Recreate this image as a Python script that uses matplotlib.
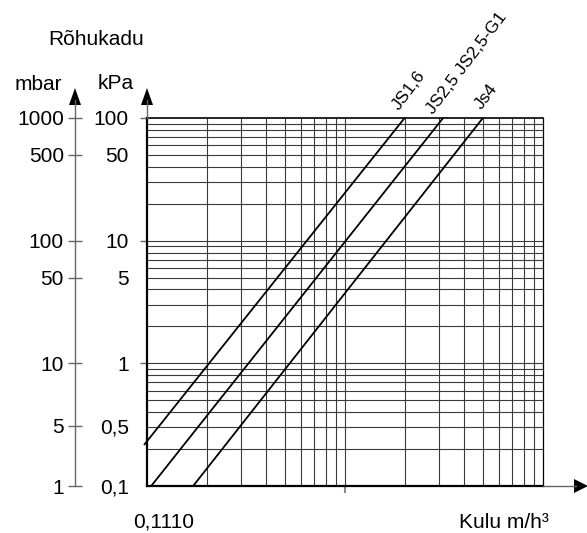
import numpy as np
import matplotlib
matplotlib.use('Agg')
import matplotlib.pyplot as plt
from matplotlib.ticker import NullLocator, FixedLocator
from matplotlib.patches import Polygon

plt.rcParams['font.family'] = ['Liberation Sans', 'DejaVu Sans']

# ---- data ----
flow_min, flow_max = 0.1, 10          # m3/h
kpa_min, kpa_max = 0.1, 100           # kPa

series_names = ['JS1,6', 'JS2,5 JS2,5-G1', 'Js4']
series_flow = [[0.0966, 2.0], [0.105, 3.13], [0.171, 4.97]]
series_kpa = [[0.216, 100], [0.1, 100], [0.1, 100]]

kpa_tick_labels = ['100', '50', '10', '5', '1', '0,5', '0,1']
kpa_tick_pos = [100, 50, 10, 5, 1, 0.31, 0.1]
mbar_tick_labels = ['1000', '500', '100', '50', '10', '5', '1']
kpa_tick_marks = [100, 10, 1]
x_tick_marks = [1]

title_text = 'Rõhukadu'
mbar_text = 'mbar'
kpa_text = 'kPa'
x_values_text = '0,1110'
x_unit_text = 'Kulu m/h³'

W, H = 587, 533
PX = 0.72  # points per pixel at dpi 100
FS = 15

fig = plt.figure(figsize=(W / 100, H / 100), dpi=100)
L, R, T, B = 147, 543, 118, 486
ax = fig.add_axes([L / W, (H - B) / H, (R - L) / W, (B - T) / H])
ax.set_xscale('log')
ax.set_yscale('log')
ax.set_xlim(flow_min, flow_max)
ax.set_ylim(kpa_min, kpa_max)

# grid
grid_col = '#3a3a3a'
for d in [0.1, 1, 10]:
    for k in range(1, 10):
        v = d * k
        if flow_min < v < flow_max:
            ax.axvline(v, color=grid_col, lw=0.8, zorder=1)
        if kpa_min < v < kpa_max:
            ax.axhline(v, color=grid_col, lw=0.8, zorder=1)

# curves
for name, fx, fy in zip(series_names, series_flow, series_kpa):
    ax.plot(fx, fy, color='black', lw=1.3, zorder=3, clip_on=False,
            solid_capstyle='butt')

offsets = [(4, 28), (24, 55), (3, 21)]
for name, fx, fy, off in zip(series_names, series_flow, series_kpa, offsets):
    ax.annotate(name, xy=(fx[-1], fy[-1]), xytext=off, textcoords='offset pixels',
                rotation=53, rotation_mode='anchor', ha='center', va='center',
                fontsize=12.5, annotation_clip=False)

# spines
for s, lw in [('left', 1.6), ('bottom', 1.6), ('top', 1.2), ('right', 0.9)]:
    ax.spines[s].set_linewidth(lw)
    ax.spines[s].set_color('black')

# y ticks (kPa)
ax.yaxis.set_major_locator(FixedLocator(kpa_tick_pos))
ax.set_yticklabels(kpa_tick_labels)
ax.yaxis.set_minor_locator(NullLocator())
ax.tick_params(axis='y', direction='out', length=7 * PX, width=1.0, color='#666666',
               labelsize=FS, pad=11 * PX)
for t, v in zip(ax.yaxis.get_major_ticks(), kpa_tick_pos):
    if v not in kpa_tick_marks:
        t.tick1line.set_visible(False)

# x ticks
ax.xaxis.set_major_locator(FixedLocator(x_tick_marks))
ax.set_xticklabels([''] * len(x_tick_marks))
ax.xaxis.set_minor_locator(NullLocator())
ax.tick_params(axis='x', direction='out', length=7 * PX, width=1.5, color='#888888')

# mbar axis
sec = ax.secondary_yaxis((75 - L) / (R - L), functions=(lambda v: v * 10, lambda v: v / 10))
sec.yaxis.set_major_locator(FixedLocator([p * 10 for p in kpa_tick_pos]))
sec.set_yticklabels(mbar_tick_labels)
sec.yaxis.set_minor_locator(NullLocator())
sec.tick_params(axis='y', direction='inout', length=14 * PX, width=1.0, color='#666666',
                labelsize=FS, pad=4 * PX)
sec.spines['left'].set_color('#666666')
sec.spines['left'].set_linewidth(1.0)

# overlay for axis extensions, arrows and free text
ov = fig.add_axes([0, 0, 1, 1], zorder=5)
ov.set_xlim(0, W)
ov.set_ylim(H, 0)
ov.axis('off')
ov.patch.set_alpha(0)

ov.plot([147, 147], [T, 100], color='#666666', lw=1.0)
ov.plot([75, 75], [T, 100], color='#666666', lw=1.0)
ov.plot([R, 576], [B, B], color='#666666', lw=1.0)
for tri in ([(147, 88), (141, 105), (153, 105)],
            [(75, 88), (69, 105), (81, 105)],
            [(588, 486), (574, 479), (574, 493)]):
    ov.add_patch(Polygon(tri, closed=True, color='black', lw=0))

ov.text(96, 45, title_text, fontsize=FS, ha='center', va='baseline')
ov.text(38, 90, mbar_text, fontsize=FS, ha='center', va='baseline')
ov.text(116, 89, kpa_text, fontsize=FS, ha='center', va='baseline')
ov.text(164, 528, x_values_text, fontsize=FS, ha='center', va='baseline')
ov.text(504, 528, x_unit_text, fontsize=FS, ha='center', va='baseline')

fig.savefig('out.png', dpi=100)
